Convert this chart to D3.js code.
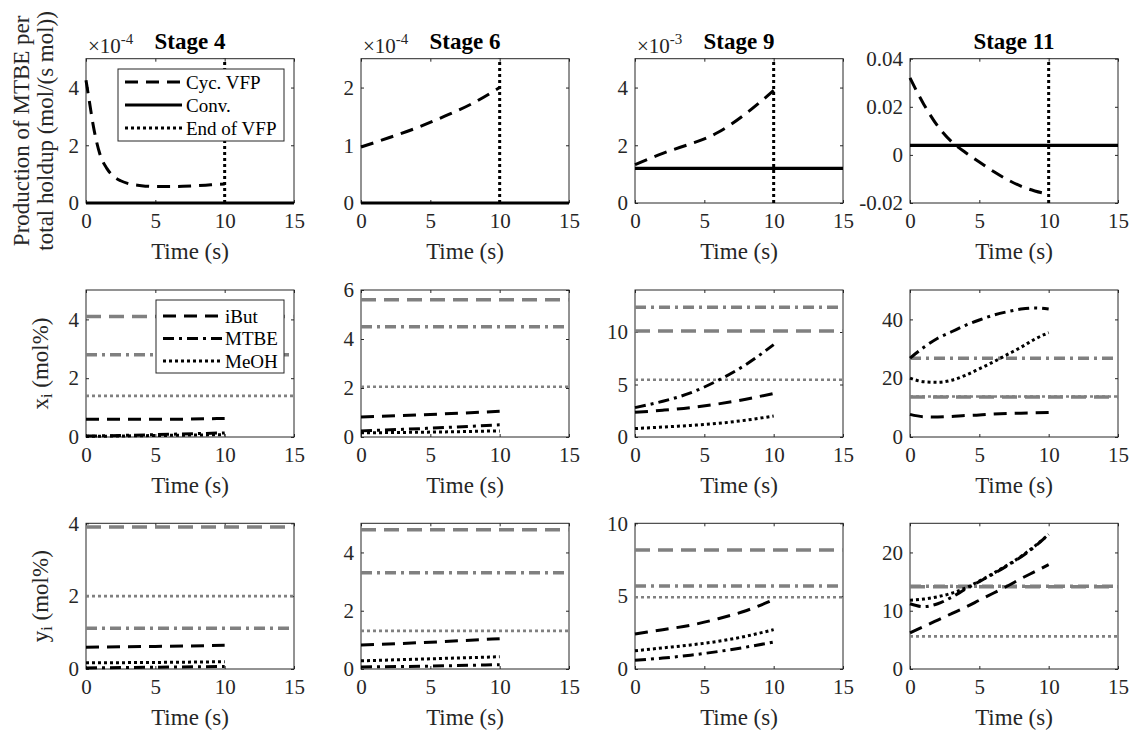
<!DOCTYPE html>
<html><head><meta charset="utf-8">
<script src="https://cdn.jsdelivr.net/npm/d3@7"></script>
<style>
body{margin:0;background:#fff;}
text{font-family:"Liberation Serif","Times New Roman",serif;}
</style></head><body>
<svg id="c" width="1129" height="731"></svg>
<script>
// ---------------- DATA ----------------
const stages = ["Stage 4", "Stage 6", "Stage 9", "Stage 11"];
const timeTicks = [0, 5, 10, 15];
const vfpEnd = 10;

// Row 1: production of MTBE per total holdup (display units, see multipliers)
const prodMultiplier = ["-4", "-4", "-3", null];
const prodDomains = [[0, 5], [0, 2.5], [0, 5], [-0.02, 0.04]];
const prodTicks = [[0, 2, 4], [0, 1, 2], [0, 2, 4], [-0.02, 0, 0.02, 0.04]];
const prodTickLabels = [["0", "2", "4"], ["0", "1", "2"], ["0", "2", "4"], ["-0.02", "0", "0.02", "0.04"]];
const prodT_s4 = [0, 0.25, 0.5, 0.75, 1, 1.5, 2, 2.5, 3, 4, 5, 6, 7, 8, 9, 10];
const prodVFP_s4 = [4.25, 3.5, 2.75, 2.15, 1.7, 1.2, 0.92, 0.77, 0.68, 0.6, 0.57, 0.57, 0.58, 0.6, 0.63, 0.66];
const prodT_s6 = [0, 2, 4, 6, 8, 10];
const prodVFP_s6 = [0.97, 1.13, 1.3, 1.5, 1.72, 2.0];
const prodT_s9 = [0, 2, 4, 5, 6, 8, 10];
const prodVFP_s9 = [1.33, 1.72, 2.05, 2.22, 2.45, 3.1, 3.9];
const prodT_s11 = [0, 1, 2, 3, 4, 5, 6, 7, 8, 9, 10];
const prodVFP_s11 = [0.032, 0.021, 0.012, 0.0055, 0.001, -0.003, -0.0068, -0.0102, -0.013, -0.015, -0.0163];
const prodConv = [0, 0, 1.2, 0.004];

// Row 2: liquid mole fractions x_i (mol%)
const xDomains = [[0, 5], [0, 6], [0, 14], [0, 50]];
const xTicksY = [[0, 2, 4], [0, 2, 4, 6], [0, 5, 10], [0, 20, 40]];
const xT_s4 = [0, 5, 10];
const xIBut_s4 = [0.6, 0.6, 0.63];
const xMTBE_s4 = [0.03, 0.08, 0.14];
const xMeOH_s4 = [0.02, 0.05, 0.08];
const xT_s6 = [0, 5, 10];
const xIBut_s6 = [0.82, 0.92, 1.05];
const xMTBE_s6 = [0.25, 0.36, 0.5];
const xMeOH_s6 = [0.17, 0.2, 0.25];
const xT_s9 = [0, 2, 4, 6, 8, 10];
const xIBut_s9 = [2.35, 2.55, 2.8, 3.15, 3.6, 4.15];
const xMTBE_s9 = [2.8, 3.4, 4.2, 5.4, 6.9, 8.8];
const xMeOH_s9 = [0.8, 0.95, 1.1, 1.3, 1.6, 2.0];
const xT_s11 = [0, 1, 2, 3, 4, 5, 6, 7, 8, 9, 10];
const xIBut_s11 = [7.7, 6.9, 6.8, 7.0, 7.3, 7.5, 7.8, 8.0, 8.1, 8.2, 8.3];
const xMTBE_s11 = [26.8, 30.5, 33.6, 35.8, 38, 39.8, 41.4, 42.6, 43.5, 43.9, 43.5];
const xMeOH_s11 = [20, 18.8, 18.6, 19.3, 21, 23.2, 25.5, 28, 30.5, 33.3, 35.5];
// conventional (steady state) values, grey lines: [iBut, MTBE, MeOH]
const xConvIBut = [4.1, 5.6, 10.1, 13.6];
const xConvMTBE = [2.8, 4.5, 12.35, 26.8];
const xConvMeOH = [1.4, 2.05, 5.45, 13.8];

// Row 3: vapour mole fractions y_i (mol%)
const yDomains = [[0, 4], [0, 5], [0, 10], [0, 25]];
const yTicksY = [[0, 2, 4], [0, 2, 4], [0, 5, 10], [0, 10, 20]];
const yT_s4 = [0, 5, 10];
const yIBut_s4 = [0.6, 0.62, 0.65];
const yMTBE_s4 = [0.03, 0.05, 0.07];
const yMeOH_s4 = [0.17, 0.18, 0.2];
const yT_s6 = [0, 5, 10];
const yIBut_s6 = [0.82, 0.92, 1.04];
const yMTBE_s6 = [0.07, 0.1, 0.15];
const yMeOH_s6 = [0.28, 0.35, 0.42];
const yT_s9 = [0, 2, 4, 6, 8, 10];
const yIBut_s9 = [2.4, 2.7, 3.0, 3.45, 4.0, 4.75];
const yMTBE_s9 = [0.6, 0.75, 0.95, 1.2, 1.5, 1.85];
const yMeOH_s9 = [1.25, 1.45, 1.65, 1.9, 2.25, 2.7];
const yT_s11 = [0, 1, 2, 3, 4, 5, 6, 7, 8, 9, 10];
const yIBut_s11 = [6.2, 7.3, 8.4, 9.5, 10.6, 11.8, 13.0, 14.2, 15.5, 16.7, 17.9];
const yMTBE_s11 = [11.2, 10.7, 11.2, 12.3, 13.7, 15, 16.3, 17.7, 19.2, 21, 23.1];
const yMeOH_s11 = [11.8, 12.0, 12.4, 13.0, 13.9, 15.1, 16.4, 17.8, 19.3, 21.1, 23.1];
const yConvIBut = [3.9, 4.78, 8.17, 14.1];
const yConvMTBE = [1.12, 3.3, 5.7, 14.2];
const yConvMeOH = [2.0, 1.31, 4.92, 5.6];

const legend1 = ["Cyc. VFP", "Conv.", "End of VFP"];
const legend2 = ["iBut", "MTBE", "MeOH"];

// ---------------- LAYOUT / STYLE ----------------
const svg = d3.select("#c");
const colLeft = [86, 361, 635, 910], panelW = 208;
const rowTop = [58.7, 290, 523.3], rowBot = [203, 437, 669];
const AX = "#262626", GREY = "#808080";
const TICK_FS = 21, LABEL_FS = 23, LEG_FS = 19;
const STY = {
  dash:     {c: "#000", w: 3,   da: "13,8"},
  solid:    {c: "#000", w: 3.2, da: null},
  dot:      {c: "#000", w: 3,   da: "3,3"},
  dashdot:  {c: "#000", w: 3,   da: "11,5,3,5"},
  gDash:    {c: GREY,   w: 3.5, da: "15,8"},
  gDashdot: {c: GREY,   w: 3.5, da: "11,5,3,5"},
  gDot:     {c: GREY,   w: 2.6, da: "3,3"}
};

function styled(sel, s) {
  sel.attr("fill", "none").attr("stroke", s.c).attr("stroke-width", s.w);
  if (s.da) sel.attr("stroke-dasharray", s.da);
  return sel;
}

function makePanel(r, c, domain, ticks, labels) {
  const x = d3.scaleLinear().domain([0, 15]).range([colLeft[c], colLeft[c] + panelW]);
  const y = d3.scaleLinear().domain(domain).range([rowBot[r], rowTop[r]]);
  const g = svg.append("g");
  const fmt = labels ? ((d, i) => labels[i]) : d3.format("");
  const axB = g.append("g").attr("transform", `translate(0,${rowBot[r]})`)
    .call(d3.axisBottom(x).tickValues(timeTicks).tickSizeInner(-3).tickSizeOuter(0).tickPadding(10).tickFormat(d3.format("")));
  const axT = g.append("g").attr("transform", `translate(0,${rowTop[r]})`)
    .call(d3.axisTop(x).tickValues(timeTicks).tickSizeInner(-3).tickSizeOuter(0).tickFormat(""));
  const axL = g.append("g").attr("transform", `translate(${colLeft[c]},0)`)
    .call(d3.axisLeft(y).tickValues(ticks).tickSizeInner(-3).tickSizeOuter(0).tickPadding(7).tickFormat(fmt));
  const axR = g.append("g").attr("transform", `translate(${colLeft[c] + panelW},0)`)
    .call(d3.axisRight(y).tickValues(ticks).tickSizeInner(-3).tickSizeOuter(0).tickFormat(""));
  [axB, axT, axL, axR].forEach(a => {
    a.select(".domain").remove();
    a.selectAll("line").attr("stroke", AX);
    a.selectAll("text").attr("fill", AX).style("font-size", TICK_FS + "px")
      .style("font-family", '"Liberation Serif","Times New Roman",serif');
  });
  g.append("rect").attr("x", colLeft[c]).attr("y", rowTop[r]).attr("width", panelW)
    .attr("height", rowBot[r] - rowTop[r]).attr("fill", "none").attr("stroke", AX).attr("stroke-width", 1);
  const plot = g.append("g");
  return {x, y, g, plot, r, c};
}

function series(p, ts, vs, s) {
  const line = d3.line().x(d => p.x(d[0])).y(d => p.y(d[1])).curve(d3.curveMonotoneX);
  styled(p.plot.append("path").datum(d3.zip(ts, vs)).attr("d", line), s);
}
function hline(p, v, s) {
  styled(p.plot.append("line").attr("x1", p.x(0)).attr("x2", p.x(15))
    .attr("y1", p.y(v)).attr("y2", p.y(v)), s);
}
function vline(p, t, s) {
  const d = p.y.domain();
  styled(p.plot.append("line").attr("x1", p.x(t)).attr("x2", p.x(t))
    .attr("y1", p.y(d[0])).attr("y2", p.y(d[1])), s);
}
function xlabel(p) {
  svg.append("text").attr("x", (p.x.range()[0] + p.x.range()[1]) / 2).attr("y", rowBot[p.r] + 56)
    .attr("text-anchor", "middle").style("font-size", LABEL_FS + "px").attr("fill", AX).text("Time (s)");
}

// ---------------- ROW 1 ----------------
const prodT = [prodT_s4, prodT_s6, prodT_s9, prodT_s11];
const prodV = [prodVFP_s4, prodVFP_s6, prodVFP_s9, prodVFP_s11];
const row1 = [];
for (let c = 0; c < 4; c++) {
  const p = makePanel(0, c, prodDomains[c], prodTicks[c], prodTickLabels[c]);
  row1.push(p);
  series(p, prodT[c], prodV[c], STY.dash);
  hline(p, prodConv[c], STY.solid);
  vline(p, vfpEnd, STY.dot);
  xlabel(p);
  const cx = (p.x.range()[0] + p.x.range()[1]) / 2;
  svg.append("text").attr("x", cx).attr("y", 49).attr("text-anchor", "middle")
    .style("font-size", LABEL_FS + "px").style("font-weight", "bold").attr("fill", "#000").text(stages[c]);
  if (prodMultiplier[c]) {
    const t = svg.append("text").attr("x", colLeft[c] + 2).attr("y", 53).style("font-size", TICK_FS + "px").attr("fill", AX);
    t.append("tspan").text("\u00d710");
    t.append("tspan").attr("dy", -9).style("font-size", "15px").text(prodMultiplier[c]);
  }
}
// legend 1
{
  const lg = svg.append("g");
  lg.append("rect").attr("x", 118).attr("y", 69).attr("width", 166).attr("height", 72)
    .attr("fill", "#fff").attr("stroke", AX).attr("stroke-width", 1);
  const st = [STY.dash, STY.solid, STY.dot];
  legend1.forEach((name, i) => {
    const yy = 82 + i * 23;
    styled(lg.append("line").attr("x1", 125).attr("x2", 182).attr("y1", yy).attr("y2", yy), st[i]);
    lg.append("text").attr("x", 186).attr("y", yy).attr("dy", "0.35em").style("font-size", LEG_FS + "px").attr("fill", "#000").text(name);
  });
}
// y label row 1
{
  const t = svg.append("text").attr("transform", `translate(0,${(rowTop[0] + rowBot[0]) / 2}) rotate(-90)`)
    .attr("text-anchor", "middle").style("font-size", LABEL_FS + "px").attr("fill", AX);
  t.append("tspan").attr("x", 0).attr("y", 29).text("Production of MTBE per");
  t.append("tspan").attr("x", 0).attr("y", 53).text("total holdup (mol/(s mol))");
}

// ---------------- ROWS 2 & 3 ----------------
const xT = [xT_s4, xT_s6, xT_s9, xT_s11];
const xI = [xIBut_s4, xIBut_s6, xIBut_s9, xIBut_s11];
const xM = [xMTBE_s4, xMTBE_s6, xMTBE_s9, xMTBE_s11];
const xO = [xMeOH_s4, xMeOH_s6, xMeOH_s9, xMeOH_s11];
const yT = [yT_s4, yT_s6, yT_s9, yT_s11];
const yI = [yIBut_s4, yIBut_s6, yIBut_s9, yIBut_s11];
const yM = [yMTBE_s4, yMTBE_s6, yMTBE_s9, yMTBE_s11];
const yO = [yMeOH_s4, yMeOH_s6, yMeOH_s9, yMeOH_s11];

const rowSpec = [
  {r: 1, dom: xDomains, tk: xTicksY, T: xT, I: xI, M: xM, O: xO, cI: xConvIBut, cM: xConvMTBE, cO: xConvMeOH},
  {r: 2, dom: yDomains, tk: yTicksY, T: yT, I: yI, M: yM, O: yO, cI: yConvIBut, cM: yConvMTBE, cO: yConvMeOH}
];
rowSpec.forEach(R => {
  for (let c = 0; c < 4; c++) {
    const p = makePanel(R.r, c, R.dom[c], R.tk[c], null);
    hline(p, R.cI[c], STY.gDash);
    hline(p, R.cM[c], STY.gDashdot);
    hline(p, R.cO[c], STY.gDot);
    series(p, R.T[c], R.I[c], STY.dash);
    series(p, R.T[c], R.M[c], STY.dashdot);
    series(p, R.T[c], R.O[c], STY.dot);
    xlabel(p);
  }
});
// legend 2
{
  const lg = svg.append("g");
  lg.append("rect").attr("x", 156).attr("y", 300).attr("width", 128).attr("height", 73)
    .attr("fill", "#fff").attr("stroke", AX).attr("stroke-width", 1);
  const st = [STY.dash, STY.dashdot, STY.dot];
  legend2.forEach((name, i) => {
    const yy = 316 + i * 22.5;
    styled(lg.append("line").attr("x1", 163).attr("x2", 222).attr("y1", yy).attr("y2", yy), st[i]);
    lg.append("text").attr("x", 225).attr("y", yy).attr("dy", "0.35em").style("font-size", LEG_FS + "px").attr("fill", "#000").text(name);
  });
}
// y labels rows 2/3
[["x", 1], ["y", 2]].forEach(([v, r]) => {
  const t = svg.append("text").attr("transform", `translate(48,${(rowTop[r] + rowBot[r]) / 2}) rotate(-90)`)
    .attr("text-anchor", "middle").style("font-size", LABEL_FS + "px").attr("fill", AX);
  t.append("tspan").text(v);
  t.append("tspan").attr("dy", 4).style("font-size", "16px").text("i");
  t.append("tspan").attr("dy", -4).text(" (mol%)");
});
</script></body></html>
